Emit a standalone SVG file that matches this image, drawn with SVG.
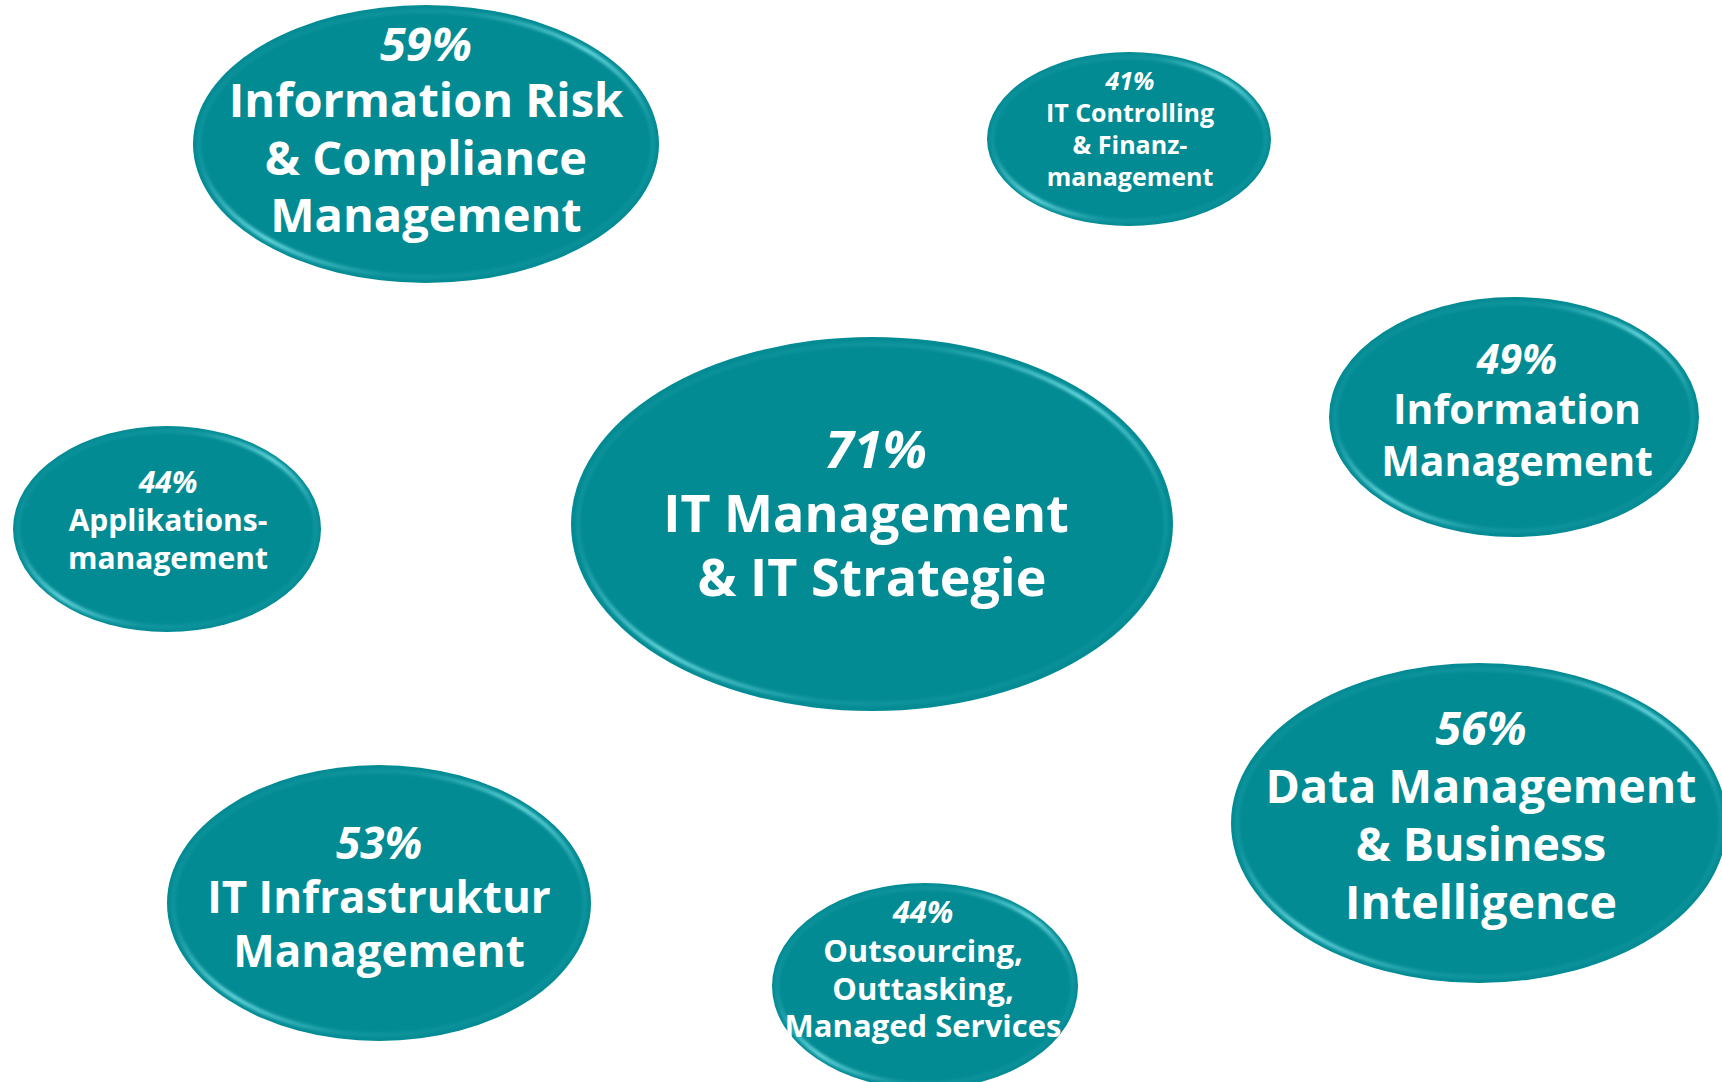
<svg xmlns="http://www.w3.org/2000/svg" width="1722" height="1082" viewBox="0 0 1722 1082">
<defs>
<linearGradient id="rimGrad" x1="0" y1="0" x2="1" y2="1">
<stop offset="0" stop-color="#6fdde3" stop-opacity="0"/>
<stop offset="0.3" stop-color="#6fdde3" stop-opacity="0.15"/>
<stop offset="0.5" stop-color="#6fdde3" stop-opacity="0.95"/>
<stop offset="0.7" stop-color="#6fdde3" stop-opacity="0.15"/>
<stop offset="1" stop-color="#6fdde3" stop-opacity="0"/>
</linearGradient>
<filter id="soft" x="-5%" y="-5%" width="110%" height="110%">
<feGaussianBlur stdDeviation="1.6"/>
</filter>
</defs>
<style>
.body{fill:#038b94;}
.rim{fill:none;stroke:url(#rimGrad);stroke-width:4;filter:url(#soft);}
text{font-family:"Open Sans","Noto Sans","DejaVu Sans",sans-serif;font-weight:700;fill:#ffffff;text-anchor:middle;}
.pct{font-style:italic;}
</style>
<rect width="1722" height="1082" fill="#ffffff"/>
<g id="connectors"></g>

<g id="node-irc">
<ellipse class="body" cx="426" cy="144" rx="233" ry="139"/>
<ellipse class="rim" cx="426" cy="144" rx="227" ry="133"/>
<text class="pct" x="426" y="61" font-size="47">59%</text>
<text x="426" y="117" font-size="47">Information Risk</text>
<text x="426" y="175" font-size="47">&amp; Compliance</text>
<text x="426" y="232" font-size="47">Management</text>
</g>

<g id="node-controlling">
<ellipse class="body" cx="1129" cy="139" rx="142" ry="87"/>
<ellipse class="rim" cx="1129" cy="139" rx="137" ry="82"/>
<text class="pct" x="1130" y="90" font-size="25">41%</text>
<text x="1130" y="122" font-size="25">IT Controlling</text>
<text x="1130" y="154" font-size="25">&amp; Finanz-</text>
<text x="1130" y="186" font-size="25">management</text>
</g>

<g id="node-infomgmt">
<ellipse class="body" cx="1514" cy="417" rx="185" ry="120"/>
<ellipse class="rim" cx="1514" cy="417" rx="179" ry="114"/>
<text class="pct" x="1517" y="374" font-size="41">49%</text>
<text x="1517" y="424" font-size="41">Information</text>
<text x="1517" y="476" font-size="41">Management</text>
</g>

<g id="node-applikation">
<ellipse class="body" cx="167" cy="529" rx="154" ry="103"/>
<ellipse class="rim" cx="167" cy="529" rx="149" ry="98"/>
<text class="pct" x="168" y="493" font-size="30">44%</text>
<text x="168" y="531" font-size="30">Applikations-</text>
<text x="168" y="569" font-size="30">management</text>
</g>

<g id="node-itmgmt">
<ellipse class="body" cx="872" cy="524" rx="301" ry="187"/>
<ellipse class="rim" cx="872" cy="524" rx="294" ry="180"/>
<text class="pct" x="876" y="468" font-size="52">71%</text>
<text x="866" y="532" font-size="52">IT Management</text>
<text x="872" y="596" font-size="52">&amp; IT Strategie</text>
</g>

<g id="node-infrastruktur">
<ellipse class="body" cx="379" cy="903" rx="212" ry="138"/>
<ellipse class="rim" cx="379" cy="903" rx="206" ry="132"/>
<text class="pct" x="379" y="859" font-size="44">53%</text>
<text x="379" y="913" font-size="44">IT Infrastruktur</text>
<text x="379" y="967" font-size="44">Management</text>
</g>

<g id="node-outsourcing">
<ellipse class="body" cx="925" cy="986" rx="153" ry="103"/>
<ellipse class="rim" cx="925" cy="986" rx="148" ry="98"/>
<text class="pct" x="923" y="923" font-size="31">44%</text>
<text x="923" y="962" font-size="31">Outsourcing,</text>
<text x="923" y="1000" font-size="31">Outtasking,</text>
<text x="923" y="1037" font-size="31">Managed Services</text>
</g>

<g id="node-datamgmt">
<ellipse class="body" cx="1479" cy="823" rx="248" ry="160"/>
<ellipse class="rim" cx="1479" cy="823" rx="242" ry="154"/>
<text class="pct" x="1481" y="745" font-size="46.5">56%</text>
<text x="1481" y="803" font-size="46.5">Data Management</text>
<text x="1481" y="861" font-size="46.5">&amp; Business</text>
<text x="1481" y="919" font-size="46.5">Intelligence</text>
</g>
</svg>
